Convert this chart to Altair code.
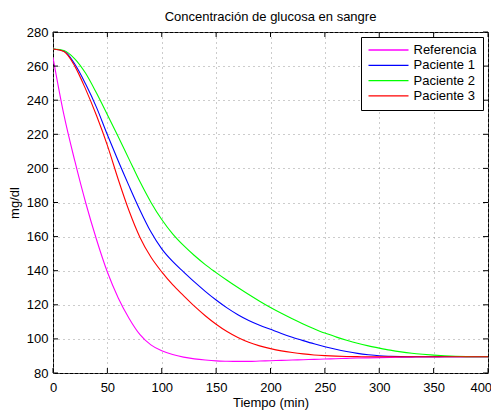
import altair as alt
import pandas as pd

# ---- data ----
tiempo = list(range(0, 401, 10))

referencia = [265, 231.5, 204.5, 180, 158.3, 139.2, 124, 112, 102.5, 96.5,
              93, 90.8, 89.3, 88.3, 87.6, 87.1, 86.9, 86.8, 86.8, 87.0,
              87.2, 87.4, 87.6, 87.8, 88.0, 88.2, 88.4, 88.6, 88.8, 88.9,
              89.0, 89.1, 89.2, 89.3, 89.4, 89.4, 89.5, 89.5, 89.5, 89.5, 89.5]

paciente1 = [270, 268.8, 261.2, 249.5, 235.8, 219.7, 204.3, 189.6, 175.5, 162.8,
             152.8, 145.4, 139.3, 133.4, 127.9, 122.8, 118.2, 114.2, 110.8, 108,
             105.6, 103.2, 101.0, 99.0, 97.1, 95.4, 93.9, 92.6, 91.5, 90.7,
             90.1, 89.8, 89.6, 89.5, 89.5, 89.5, 89.5, 89.5, 89.5, 89.5, 89.5]

paciente2 = [270, 269.2, 264.3, 255.8, 244.2, 231.5, 218.6, 205.3, 192.1, 180.2,
             170.0, 161.6, 154.8, 148.9, 143.6, 138.9, 134.4, 130.1, 126.0, 122.1,
             118.4, 115.0, 111.8, 108.8, 106.0, 103.4, 101.2, 99.2, 97.4, 95.9,
             94.6, 93.4, 92.4, 91.6, 91.0, 90.5, 90.1, 89.8, 89.6, 89.5, 89.5]

paciente3 = [270, 268.5, 260, 246.5, 231, 213.5, 193.5, 175, 159.5, 148,
             139.3, 131.8, 125.4, 119.2, 113.6, 108.6, 104.3, 100.8, 98.0, 95.9,
             94.3, 93.0, 92.0, 91.2, 90.6, 90.2, 89.9, 89.7, 89.6, 89.5,
             89.5, 89.5, 89.5, 89.5, 89.5, 89.5, 89.5, 89.5, 89.5, 89.5, 89.5]

series = ["Referencia", "Paciente 1", "Paciente 2", "Paciente 3"]
colores = ["#ff00ff", "#0000ff", "#00ff00", "#ff0000"]

x_ticks = [0, 50, 100, 150, 200, 250, 300, 350, 400]
y_ticks = [80, 100, 120, 140, 160, 180, 200, 220, 240, 260, 280]

rows = []
for name, vals in zip(series, [referencia, paciente1, paciente2, paciente3]):
    for t, g in zip(tiempo, vals):
        rows.append({"t": t, "g": g, "serie": name})
df = pd.DataFrame(rows)

W, H = 435, 341
FONT = "Liberation Sans"
FS = 13

xs = alt.Scale(domain=[0, 400], nice=False, zero=False)
ys = alt.Scale(domain=[80, 280], nice=False, zero=False)

lines = alt.Chart(df).mark_line(strokeWidth=1.1, interpolate="monotone", clip=True).encode(
    x=alt.X("t:Q", scale=xs, axis=alt.Axis(values=x_ticks, title="Tiempo (min)",
                                           labelPadding=8, titlePadding=2,
                                           labelFlush=True, labelFlushOffset=3.6,
                                           labelOverlap=False, tickCount=len(x_ticks))),
    y=alt.Y("g:Q", scale=ys, axis=alt.Axis(values=y_ticks, title="mg/dl",
                                           labelPadding=5, titlePadding=5,
                                           labelFlush=False,
                                           labelOverlap=False, tickCount=len(y_ticks))),
    color=alt.Color("serie:N", sort=series,
                    scale=alt.Scale(domain=series, range=colores),
                    legend=alt.Legend(orient="none", legendX=308, legendY=5,
                                      title=None, symbolType="stroke",
                                      symbolSize=1600, symbolStrokeWidth=1.3,
                                      clipHeight=13, rowPadding=1.3,
                                      labelFont=FONT, labelFontSize=FS,
                                      labelColor="black", labelOffset=4,
                                      strokeColor="black", fillColor="white",
                                      padding=6.5)),
)

xt = pd.DataFrame({"t": x_ticks})
yt = pd.DataFrame({"g": y_ticks})
tick_style = dict(color="black", strokeWidth=1)

bottom_ticks = alt.Chart(xt).mark_rule(**tick_style).encode(
    x=alt.X("t:Q", scale=xs), y=alt.value(H), y2=alt.value(H - 5))
top_ticks = alt.Chart(xt).mark_rule(**tick_style).encode(
    x=alt.X("t:Q", scale=xs), y=alt.value(0), y2=alt.value(5))
left_ticks = alt.Chart(yt).mark_rule(**tick_style).encode(
    y=alt.Y("g:Q", scale=ys), x=alt.value(0), x2=alt.value(5))
right_ticks = alt.Chart(yt).mark_rule(**tick_style).encode(
    y=alt.Y("g:Q", scale=ys), x=alt.value(W), x2=alt.value(W - 5))

chart = alt.layer(lines, bottom_ticks, top_ticks, left_ticks, right_ticks).properties(
    width=W, height=H,
    title=alt.TitleParams("Concentración de glucosa en sangre", font=FONT,
                          fontSize=FS, fontWeight="normal", color="black",
                          offset=2),
    autosize=alt.AutoSizeParams(type="none"),
    padding={"left": 45, "top": 24, "right": 3, "bottom": 38},
).configure_view(
    stroke="black", strokeWidth=1
).configure_axis(
    domain=False, ticks=False, tickSize=0, grid=True, labelOverlap=False,
    gridColor="#999999", gridDash=[1, 4], gridWidth=1,
    labelFont=FONT, labelFontSize=FS, labelColor="black",
    titleFont=FONT, titleFontSize=FS, titleFontWeight="normal", titleColor="black",
)

chart.save("out.html", embed_options={"renderer": "svg", "actions": False})
